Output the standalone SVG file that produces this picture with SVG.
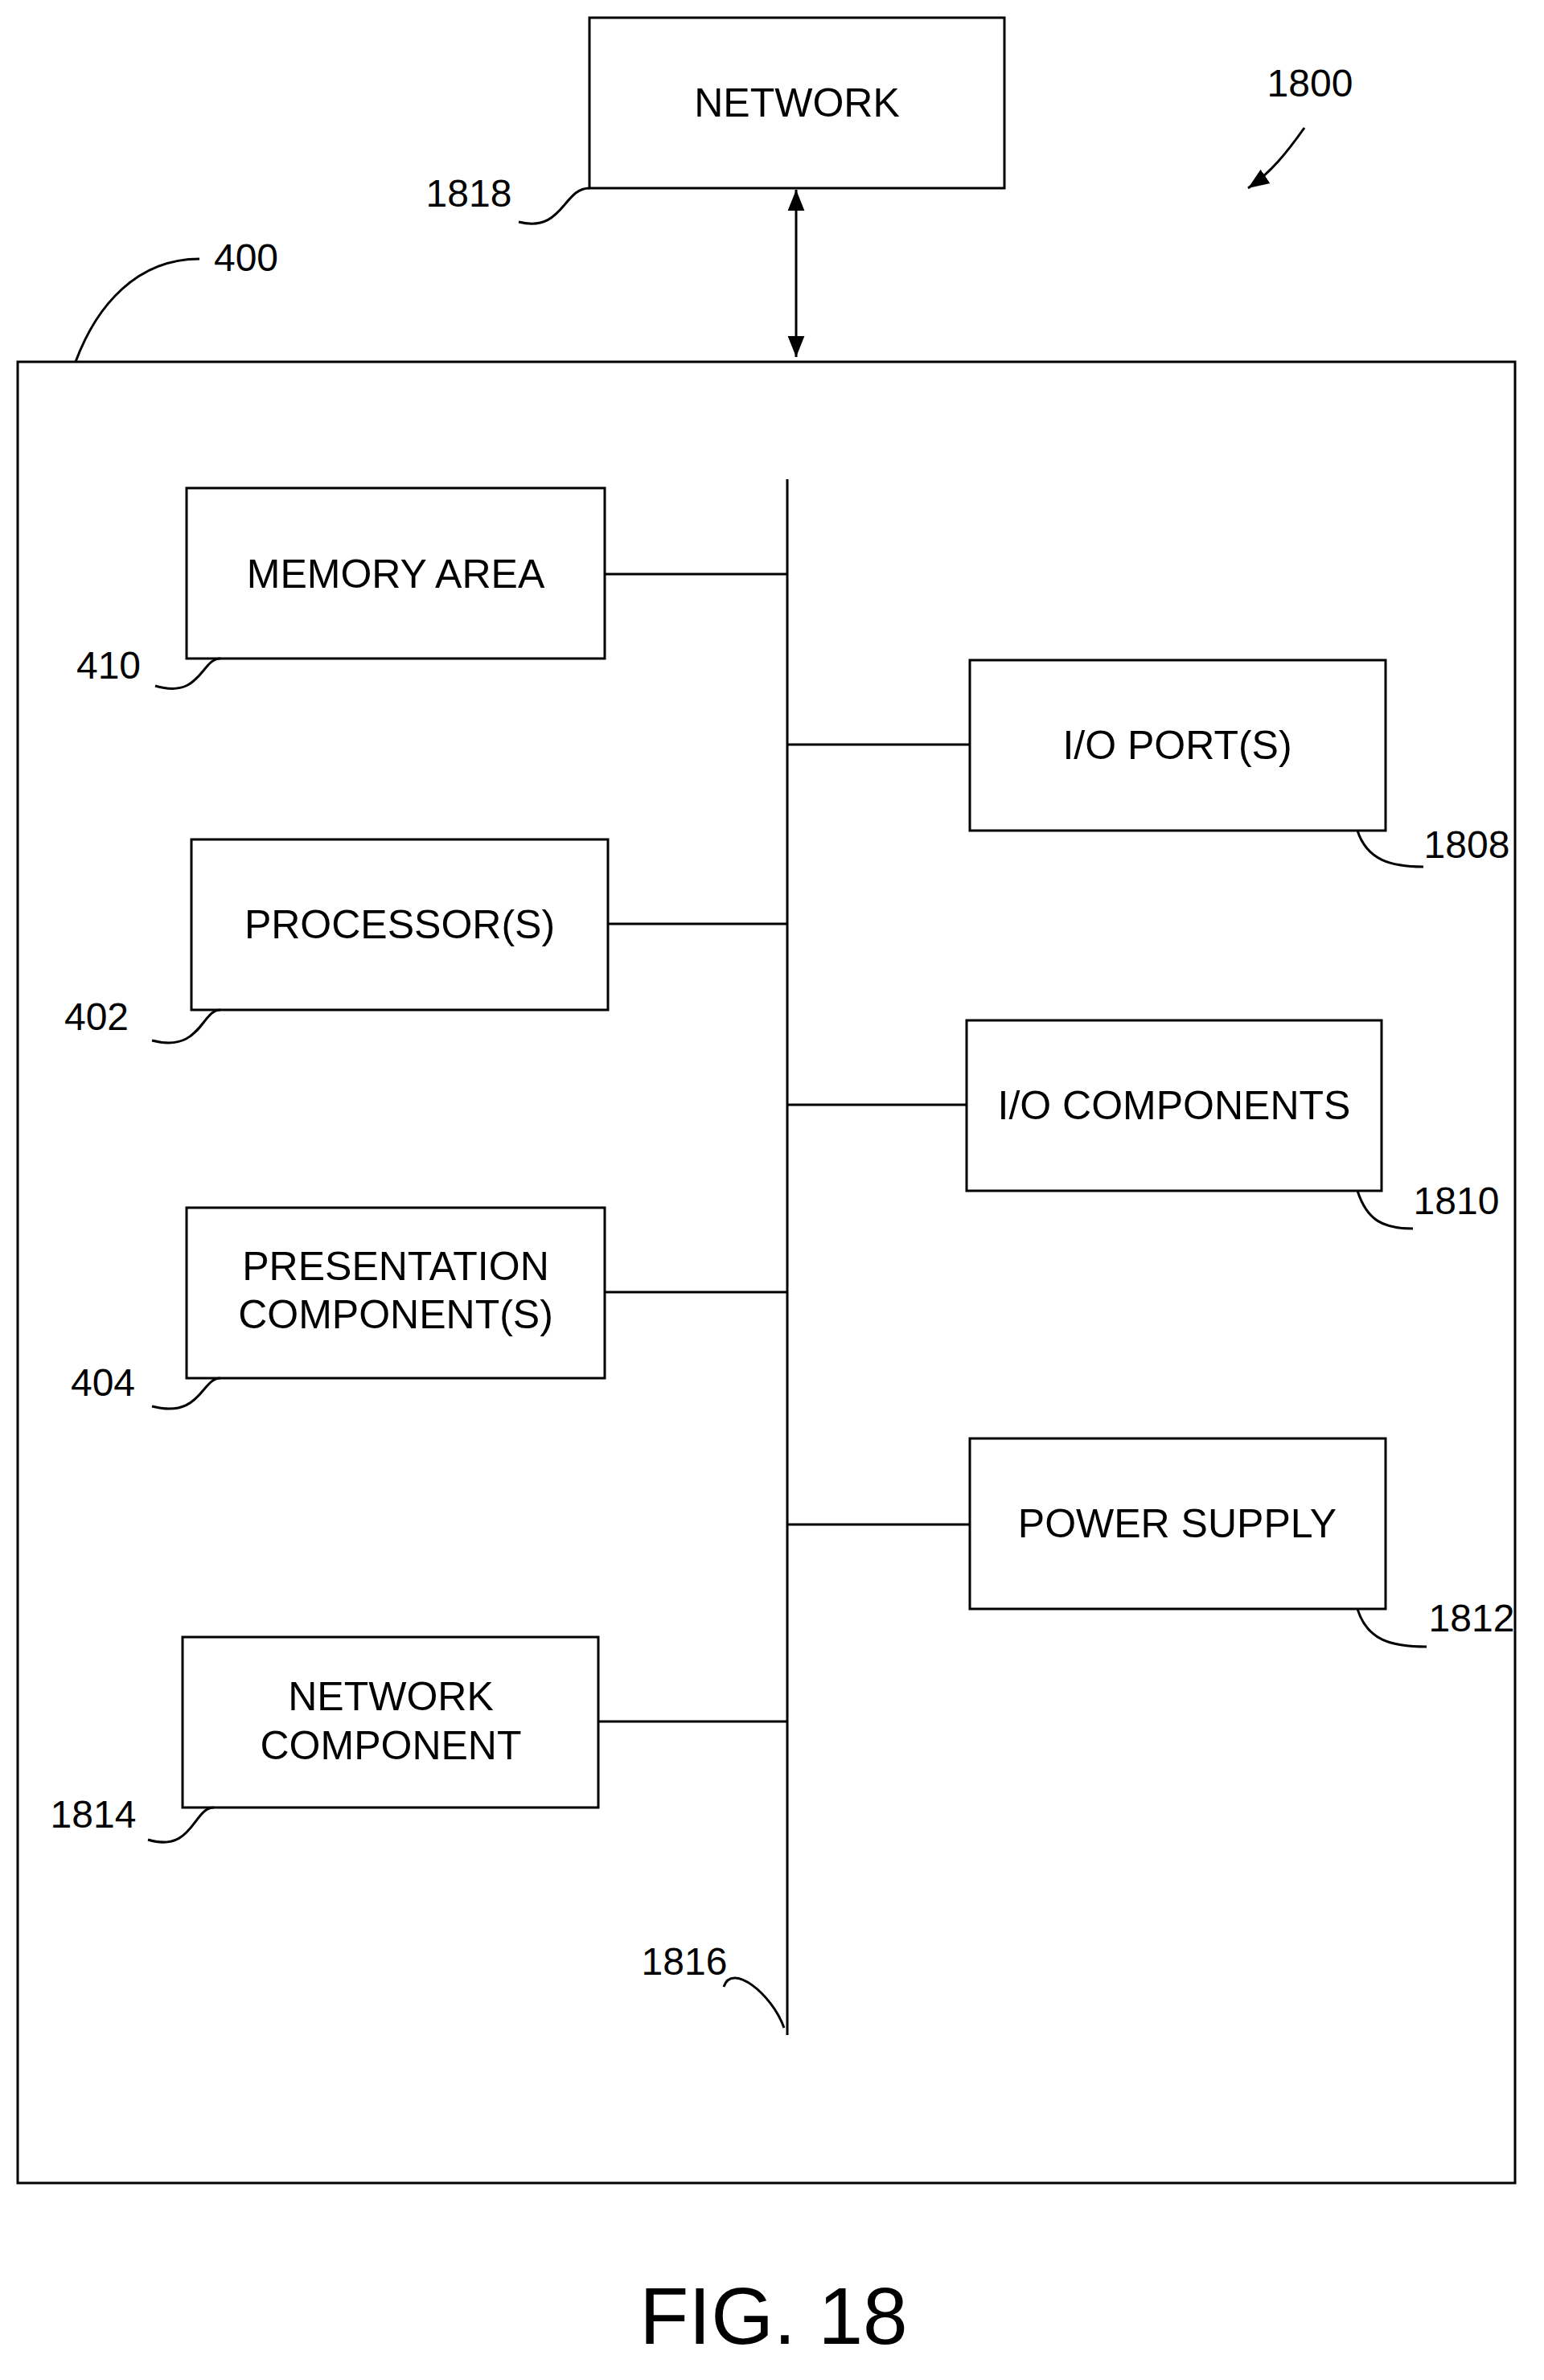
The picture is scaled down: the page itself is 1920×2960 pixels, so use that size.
<svg xmlns="http://www.w3.org/2000/svg" width="1920" height="2960" viewBox="0 0 1920 2960">
<style>
.b{fill:none;stroke:#000;stroke-width:3}
.l{fill:none;stroke:#000;stroke-width:3}
.t{font-family:"Liberation Sans",Arial,sans-serif;font-size:50px;text-anchor:middle;fill:#000}
.n{font-family:"Liberation Sans",Arial,sans-serif;font-size:48px;text-anchor:middle;fill:#000}
</style>
<defs>
<marker id="h" viewBox="0 0 10 10" refX="10" refY="5" markerWidth="26" markerHeight="26" markerUnits="userSpaceOnUse" orient="auto-start-reverse"><path d="M0,1L10,5L0,9z"/></marker>
</defs>
<rect width="1920" height="2960" fill="#fff"/>
<g id="system400"><rect class="b" x="22" y="450" width="1862" height="2265"/></g>
<g id="network"><rect class="b" x="733" y="22" width="516" height="212"/><text class="t" x="991" y="145">NETWORK</text></g>
<g id="memory"><rect class="b" x="232" y="607" width="520" height="212"/><text class="t" x="492" y="731">MEMORY AREA</text></g>
<g id="processor"><rect class="b" x="238" y="1044" width="518" height="212"/><text class="t" x="497" y="1167">PROCESSOR(S)</text></g>
<g id="presentation"><rect class="b" x="232" y="1502" width="520" height="212"/><text class="t" x="492" y="1592">PRESENTATION</text><text class="t" x="492" y="1652">COMPONENT(S)</text></g>
<g id="netcomp"><rect class="b" x="227" y="2036" width="517" height="212"/><text class="t" x="486" y="2127">NETWORK</text><text class="t" x="486" y="2188">COMPONENT</text></g>
<g id="ioport"><rect class="b" x="1206" y="821" width="517" height="212"/><text class="t" x="1464" y="944">I/O PORT(S)</text></g>
<g id="iocomp"><rect class="b" x="1202" y="1269" width="516" height="212"/><text class="t" x="1460" y="1392">I/O COMPONENTS</text></g>
<g id="power"><rect class="b" x="1206" y="1789" width="517" height="212"/><text class="t" x="1464" y="1912">POWER SUPPLY</text></g>
<g id="connectors">
<line class="l" x1="979" y1="596" x2="979" y2="2531"/>
<line class="l" x1="752" y1="714" x2="979" y2="714"/>
<line class="l" x1="756" y1="1149" x2="979" y2="1149"/>
<line class="l" x1="752" y1="1607" x2="979" y2="1607"/>
<line class="l" x1="744" y1="2141" x2="979" y2="2141"/>
<line class="l" x1="979" y1="926" x2="1206" y2="926"/>
<line class="l" x1="979" y1="1374" x2="1202" y2="1374"/>
<line class="l" x1="979" y1="1896" x2="1206" y2="1896"/>
<line class="l" x1="990" y1="236" x2="990" y2="444" marker-start="url(#h)" marker-end="url(#h)"/>
<path class="l" d="M1622,159 C1600,190 1580,215 1552,234" marker-end="url(#h)"/>
<path class="l" d="M645,276 C700,290 700,234 733,234"/>
<path class="l" d="M248,322 C170,322 120,380 94,450"/>
<path class="l" d="M193,853 C250,870 250,819 274,819"/>
<path class="l" d="M189,1294 C250,1310 250,1256 274,1256"/>
<path class="l" d="M189,1749 C250,1765 250,1714 274,1714"/>
<path class="l" d="M184,2288 C240,2305 240,2248 266,2248"/>
<path class="l" d="M1688,1033 C1700,1070 1730,1078 1770,1078"/>
<path class="l" d="M1688,1481 C1700,1518 1720,1528 1757,1528"/>
<path class="l" d="M1688,2001 C1700,2040 1730,2048 1774,2048"/>
<path class="l" d="M900,2471 C910,2440 960,2480 975,2522"/>
</g>
<g id="labels">
<text class="n" x="1629" y="120">1800</text>
<text class="n" x="583" y="257">1818</text>
<text class="n" x="306" y="337">400</text>
<text class="n" x="135" y="844">410</text>
<text class="n" x="120" y="1281">402</text>
<text class="n" x="128" y="1736">404</text>
<text class="n" x="116" y="2273">1814</text>
<text class="n" x="1824" y="1067">1808</text>
<text class="n" x="1811" y="1510">1810</text>
<text class="n" x="1830" y="2029">1812</text>
<text class="n" x="851" y="2456">1816</text>
<text class="t" x="962" y="2915" style="font-size:100px">FIG. 18</text>
</g>
</svg>
